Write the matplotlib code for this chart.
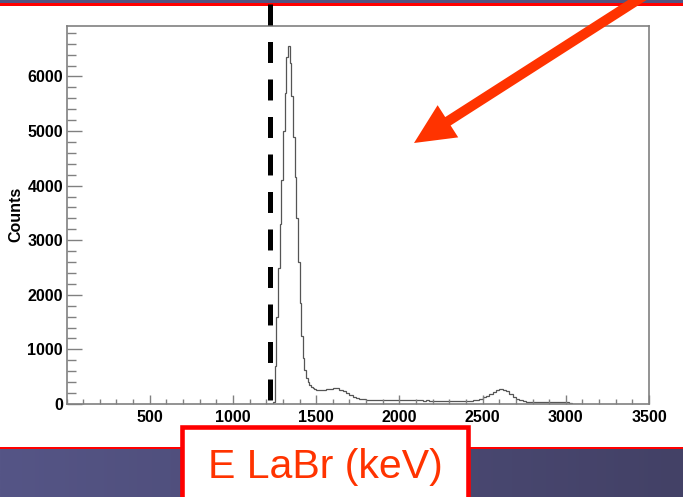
import matplotlib
matplotlib.use("Agg")
import matplotlib.pyplot as plt
import matplotlib.transforms as mtransforms
from matplotlib.patches import Rectangle, FancyArrowPatch, ArrowStyle
from matplotlib.lines import Line2D
from matplotlib.ticker import MultipleLocator
import numpy as np

plt.rcParams['lines.scale_dashes'] = False

# LaBr energy spectrum: 10 keV bins over the main peak (1200-1500 keV),
# 20 keV bins for the tail (1500-3100 keV)
peak_start, peak_width = 1200, 10
peak_counts = [
    0, 0, 0, 0, 30, 700, 1600, 2500, 3300, 4100,               # 1200-1300
    5000, 5700, 6350, 6560, 6250, 5650, 4900, 4150, 3400, 2600,  # 1300-1400
    1850, 1250, 850, 620, 480, 400, 340, 305, 285, 270,        # 1400-1500
]
tail_start, tail_width = 1500, 20
tail_counts = [
    265, 255, 262, 268, 275,                                   # 1500-1600
    290, 285, 262, 232, 200, 165, 135, 112, 98, 88,            # 1600-1800
    80, 78, 76, 74, 75, 72, 73, 70, 71, 69,                    # 1800-2000
    70, 68, 67, 68, 66, 65, 66, 64, 65, 63,                    # 2000-2200
    64, 62, 63, 62, 61, 62, 60, 61, 62, 60,                    # 2200-2400
    62, 64, 70, 82, 100, 125, 155, 190, 225, 255,              # 2400-2600
    270, 262, 230, 185, 135, 95, 65, 48, 40, 36,               # 2600-2800
    35, 38, 34, 40, 33, 36, 32, 35, 30, 28,                    # 2800-3000
    30, 20, 8, 0, 0,                                           # 3000-3100
]
cut_energy = 1225   # threshold marked by the dashed line

x_ticks = [500, 1000, 1500, 2000, 2500, 3000, 3500]
y_ticks = [0, 1000, 2000, 3000, 4000, 5000, 6000]
x_title = "E LaBr (keV)"
y_title = "Counts"

W, H = 683, 497
def px(x, y):
    # image pixel -> figure fraction
    return x / W, 1 - y / H

fig = plt.figure(figsize=(W / 100, H / 100), dpi=100)
fig.patch.set_facecolor('white')

# slide decoration: top band and bottom band
fig.add_artist(Rectangle(px(0, 3.5), 1, 3.5 / H, transform=fig.transFigure,
                         color='#535380', lw=0, zorder=-5))
fig.add_artist(Rectangle(px(0, 5.5), 1, 2 / H, transform=fig.transFigure,
                         color='#ff0000', lw=0, zorder=-4))
bg = fig.add_axes([0, 0, 1, (H - 448.5) / H], zorder=-10)
grad = np.linspace(0, 1, 256)[None, :, None]
c0 = np.array([0x55, 0x55, 0x86]) / 255
c1 = np.array([0x43, 0x41, 0x66]) / 255
bg.imshow(c0 + (c1 - c0) * grad, aspect='auto', extent=[0, 1, 0, 1])
bg.set_axis_off()
fig.add_artist(Rectangle(px(0, 448.5), 1, 2 / H, transform=fig.transFigure,
                         color='#ff0000', lw=0, zorder=-4))

# histogram frame
left, right, top, bottom = 66.5, 649, 25.7, 404
ax = fig.add_axes([left / W, 1 - bottom / H, (right - left) / W, (bottom - top) / H])
edges = np.concatenate([peak_start + peak_width * np.arange(len(peak_counts)),
                        tail_start + tail_width * np.arange(len(tail_counts) + 1)])
ax.stairs(peak_counts + tail_counts, edges, color='#555555', lw=0.9)
ax.set_xlim(0, 3500)
ax.set_ylim(0, 6930)

ax.set_xticks(x_ticks)
ax.set_yticks(y_ticks)
ax.xaxis.set_minor_locator(MultipleLocator(100))
ax.yaxis.set_minor_locator(MultipleLocator(200))
ax.tick_params(which='both', direction='in', colors='#808080', labelcolor='black', width=1)
ax.tick_params(axis='x', which='major', length=6.5, pad=4)
ax.tick_params(axis='x', which='minor', length=3.6)
ax.tick_params(axis='y', which='major', length=11, pad=2.5)
ax.tick_params(axis='y', which='minor', length=6.5)
for lab in ax.get_xticklabels() + ax.get_yticklabels():
    lab.set_fontfamily('Liberation Sans')
    lab.set_fontweight('bold')
    lab.set_fontsize(11.5)
for sp in ax.spines.values():
    sp.set_color('#808080')
    sp.set_linewidth(1.2)

ax.set_ylabel(y_title, fontfamily='Liberation Sans', fontweight='bold', fontsize=11.5)
ax.yaxis.set_label_coords((23 - left) / (right - left), 0.5)

# dashed threshold line, runs above the frame up to the slide band
trans = mtransforms.blended_transform_factory(ax.transData, fig.transFigure)
fig.add_artist(Line2D([cut_energy, cut_energy], [px(0, 4)[1], px(0, 400)[1]],
                      transform=trans, color='black', lw=3.6,
                      dashes=(15.1, 11.9), zorder=5))

# x title in red box
fig.add_artist(Rectangle(px(182, 505), (468 - 182) / W, (505 - 427) / H,
                         transform=fig.transFigure, facecolor='white',
                         edgecolor='#ff0000', lw=3.3, zorder=6))
fig.text(*px(325, 478), x_title, ha='center', va='baseline', fontsize=29.5,
         fontfamily='Liberation Sans', color='#ff3300', zorder=7)

# red arrow
arrow = FancyArrowPatch(px(653, -10), px(414, 143), transform=fig.transFigure,
                        arrowstyle=ArrowStyle.Simple(head_length=29, head_width=27.5, tail_width=7.2),
                        mutation_scale=1, color='#ff3300', lw=0,
                        shrinkA=0, shrinkB=0, zorder=10)
fig.add_artist(arrow)

fig.savefig('out.png', dpi=100)
